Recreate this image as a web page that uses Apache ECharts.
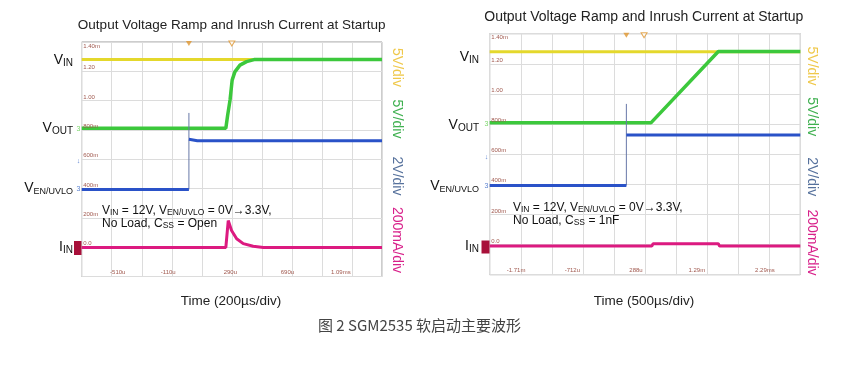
<!DOCTYPE html>
<html><head><meta charset="utf-8">
<script src="https://cdn.jsdelivr.net/npm/echarts@6/dist/echarts.min.js"></script>
<style>html,body{margin:0;padding:0;background:#fff}#c{width:849px;height:365px}</style>
</head><body><div id="c"></div>
<script>
// All trace values are in oscilloscope division units: x 0..10 divisions, y 0..8 divisions
const yTickLabels = ['0.0', '200m', '400m', '600m', '800m', '1.00', '1.20', '1.40m']; // at y = 1..8
const xTickLabelsL = ['-510u', '-110u', '290u', '690u', '1.09ms'];
const xTickPosL = [1.2, 2.88, 4.95, 6.85, 8.63];
const xTickLabelsR = ['-1.71m', '-712u', '288u', '1.29m', '2.29ms'];
const xTickPosR = [0.85, 2.66, 4.71, 6.67, 8.86];

// Left panel: Css = Open
const vinL = [[0, 7.40], [10, 7.40]];
const voutL = [[0, 5.06], [4.80, 5.06], [4.86, 5.50], [4.94, 6.02], [5.01, 6.70], [5.10, 6.98], [5.27, 7.21], [5.49, 7.33], [5.74, 7.40], [10, 7.40]];
const venL = [[0, 2.97], [3.57, 2.97], [3.57, '-'], [3.57, 4.68], [3.85, 4.63], [10, 4.63]];
const spikeL = [[3.57, 2.97], [3.57, 5.58]];
const iinL = [[0, 0.99], [4.80, 0.99], [4.88, 1.91], [4.99, 1.57], [5.16, 1.29], [5.38, 1.12], [5.71, 1.03], [6.05, 0.99], [10, 0.99]];
const trigL = [[3.57, 7.95]];
const cursL = [[5.0, 7.95]];

// Right panel: Css = 1nF
const vinR = [[0, 7.40], [10, 7.40]];
const voutR = [[0, 5.04], [5.19, 5.04], [7.36, 7.41], [10, 7.41]];
const venR = [[0, 2.96], [4.40, 2.96], [4.40, '-'], [4.40, 4.64], [10, 4.64]];
const spikeR = [[4.40, 2.96], [4.40, 5.67]];
const iinR = [[0, 0.95], [5.22, 0.95], [5.26, 1.03], [7.36, 1.03], [7.40, 0.95], [10, 0.95]];
const trigR = [[4.40, 7.95]];
const cursR = [[4.97, 7.95]];

const C = { vin: '#e4d82c', vout: '#3cc83c', ven: '#2a52c8', iin: '#dc1a80', spike: '#6878a8', tick: '#a0584e', mark: '#e0962e' };
const FONT = 'Liberation Sans, Arial, sans-serif';

const chart = echarts.init(document.getElementById('c'), null, { renderer: 'canvas' });

function axes(i) {
  return {
    x: { type: 'value', gridIndex: i, min: 0, max: 10, interval: 1, axisLine: { show: false }, axisTick: { show: false }, axisLabel: { show: false }, splitLine: { show: true, lineStyle: { color: '#dcdcdc', width: 1 } } },
    y: { type: 'value', gridIndex: i, min: 0, max: 8, interval: 1, axisLine: { show: false }, axisTick: { show: false }, axisLabel: { show: false }, splitLine: { show: true, lineStyle: { color: '#dcdcdc', width: 1 } } }
  };
}
const a0 = axes(0), a1 = axes(1);

function line(data, color, width, idx, z) {
  return { type: 'line', xAxisIndex: idx, yAxisIndex: idx, data: data, showSymbol: false, symbol: 'none', connectNulls: false, animation: false, z: z,
    lineStyle: { color: color, width: width }, itemStyle: { color: color } };
}
function marker(data, idx, hollow) {
  return { type: 'scatter', xAxisIndex: idx, yAxisIndex: idx, data: data, symbol: 'triangle', symbolRotate: 180, symbolSize: [6, 5], clip: false, animation: false, z: 5,
    itemStyle: hollow ? { color: '#fff', borderColor: C.mark, borderWidth: 1 } : { color: C.mark } };
}

chart.setOption({
  animation: false,
  grid: [
    { left: 81.7, top: 42, width: 300.3, height: 234.5, show: true, borderColor: '#9a9a9a', borderWidth: 1, backgroundColor: '#fff' },
    { left: 489.7, top: 33.7, width: 310.6, height: 241, show: true, borderColor: '#9a9a9a', borderWidth: 1, backgroundColor: '#fff' }
  ],
  xAxis: [a0.x, a1.x],
  yAxis: [a0.y, a1.y],
  series: [
    line(vinL, C.vin, 3, 0, 2), line(voutL, C.vout, 3.5, 0, 3), line(spikeL, C.spike, 1, 0, 3), line(venL, C.ven, 3, 0, 4), line(iinL, C.iin, 3, 0, 4),
    marker(trigL, 0, false), marker(cursL, 0, true),
    line(vinR, C.vin, 3, 1, 2), line(voutR, C.vout, 3.5, 1, 3), line(spikeR, C.spike, 1, 1, 3), line(venR, C.ven, 3, 1, 4), line(iinR, C.iin, 3, 1, 4),
    marker(trigR, 1, false), marker(cursR, 1, true)
  ]
});

const g = [];
function txt(x, y, text, size, color, opts) {
  g.push(Object.assign({ type: 'text', x: x, y: y, silent: true, z: 10,
    style: Object.assign({ text: text, fontSize: size, fontFamily: FONT, fill: color, align: 'center', verticalAlign: 'middle' }, (opts && opts.style) || {}) },
    (opts && opts.el) || {}));
}
function rich(x, y, text, big, small, color, align, lh) {
  g.push({ type: 'text', x: x, y: y, silent: true, z: 10,
    style: { text: text, fontFamily: FONT, fill: color, align: align, verticalAlign: 'middle',
      rich: {
        a: { fontSize: big, fontFamily: FONT, fill: color, lineHeight: lh },
        b: { fontSize: small, fontFamily: FONT, fill: color, lineHeight: small, verticalAlign: 'bottom' }
      } } });
}

// Titles
txt(231.7, 25, 'Output Voltage Ramp and Inrush Current at Startup', 13.5, '#222');
txt(643.8, 17, 'Output Voltage Ramp and Inrush Current at Startup', 14, '#222');
// Time labels
txt(231, 301, 'Time (200µs/div)', 13.5, '#222');
txt(644, 301, 'Time (500µs/div)', 13.5, '#222');
// Caption
txt(419.5, 325, '图 2 SGM2535 软启动主要波形', 15, '#444', { style: { fontFamily: 'Noto Sans CJK SC, sans-serif' } });

// Channel names
const chL = [['{a|V}{b|IN}', 60], ['{a|V}{b|OUT}', 128], ['{a|V}{b|EN/UVLO}', 188], ['{a|I}{b|IN}', 247]];
const chR = [['{a|V}{b|IN}', 57], ['{a|V}{b|OUT}', 125], ['{a|V}{b|EN/UVLO}', 186], ['{a|I}{b|IN}', 246]];
chL.forEach(function (c) { rich(73, c[1], c[0], 14, c[0].indexOf('EN') > 0 ? 9 : 10, '#111', 'right', 16); });
chR.forEach(function (c) { rich(479, c[1], c[0], 14, c[0].indexOf('EN') > 0 ? 9 : 10, '#111', 'right', 16); });

// Annotations
rich(102, 211, '{a|V}{b|IN}{a| = 12V, V}{b|EN/UVLO}{a| = 0V→3.3V,}', 12, 8.5, '#111', 'left', 13);
rich(102, 223.5, '{a|No Load, C}{b|SS}{a| = Open}', 12, 8.5, '#111', 'left', 13);
rich(513, 208, '{a|V}{b|IN}{a| = 12V, V}{b|EN/UVLO}{a| = 0V→3.3V,}', 12, 8.5, '#111', 'left', 13);
rich(513, 221, '{a|No Load, C}{b|SS}{a| = 1nF}', 12, 8.5, '#111', 'left', 13);

// Vertical scale labels
const rot = -Math.PI / 2;
const scaleTexts = [['5V/div', '#efc84a'], ['5V/div', '#3fb050'], ['2V/div', '#56719c'], ['200mA/div', '#d8208a']];
const scaleYL = [67.5, 119, 176, 240];
const scaleYR = [66, 116.7, 176.7, 242.5];
scaleTexts.forEach(function (s, i) {
  txt(396.7, scaleYL[i], s[0], 14, s[1], { el: { rotation: rot } });
  txt(811.7, scaleYR[i], s[0], 14, s[1], { el: { rotation: rot } });
});

// Tick labels via axes
function ticks(idx, xLabels, xPos) {
  const p0 = chart.convertToPixel({ gridIndex: idx }, [0, 0]);
  for (let k = 0; k < yTickLabels.length; k++) {
    const v = k + 1;
    const p = chart.convertToPixel({ gridIndex: idx }, [0, v]);
    const top = v === 8;
    txt(p[0] + 1.5, top ? p[1] + 1 : p[1] - 0.5, yTickLabels[k], 6, C.tick, { style: { align: 'left', verticalAlign: top ? 'top' : 'bottom' } });
  }
  for (let k = 0; k < xLabels.length; k++) {
    const p = chart.convertToPixel({ gridIndex: idx }, [xPos[k], 0]);
    txt(p[0], p0[1] - 1, xLabels[k], 6, C.tick, { style: { verticalAlign: 'bottom' } });
  }
}
ticks(0, xTickLabelsL, xTickPosL);
ticks(1, xTickLabelsR, xTickPosR);

// Channel ground markers and IIN box
txt(78.5, 129, '3', 7, '#7ad66a');
txt(78.5, 189, '3', 7, '#5a82d0');
txt(78.5, 161, '↓', 7, '#5a82d0');
txt(486.5, 124, '3', 7, '#7ad66a');
txt(486.5, 186, '3', 7, '#5a82d0');
txt(486.5, 157, '↓', 7, '#5a82d0');
g.push({ type: 'rect', shape: { x: 74, y: 241, width: 7.5, height: 14 }, style: { fill: '#a8103a' }, z: 9, silent: true });
g.push({ type: 'rect', shape: { x: 481.5, y: 240.5, width: 8, height: 13 }, style: { fill: '#a8103a' }, z: 9, silent: true });

chart.setOption({ graphic: g });
</script>
</body></html>
